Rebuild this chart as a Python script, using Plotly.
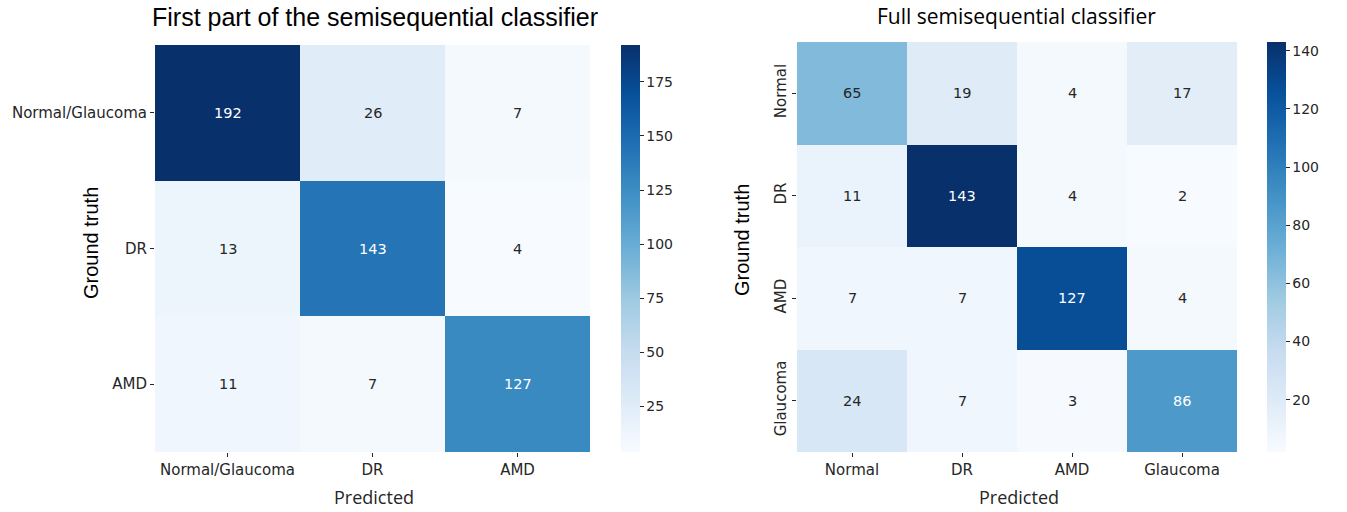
import plotly.graph_objects as go
import plotly.express as px

W, H = 1347, 512

# First part: 3-class confusion matrix
labels_a = ["Normal/Glaucoma", "DR", "AMD"]
cm_a = [
    [192, 26, 7],
    [13, 143, 4],
    [11, 7, 127],
]
ticks_a = [25, 50, 75, 100, 125, 150, 175]

# Full classifier: 4-class confusion matrix
labels_b = ["Normal", "DR", "AMD", "Glaucoma"]
cm_b = [
    [65, 19, 4, 17],
    [11, 143, 4, 2],
    [7, 7, 127, 4],
    [24, 7, 3, 86],
]
ticks_b = [20, 40, 60, 80, 100, 120, 140]

blues = px.colors.sequential.Blues
TXT = "#262626"
TICKFONT = dict(family="DejaVu Sans", size=15, color=TXT)
CBFONT = dict(family="DejaVu Sans", size=14, color=TXT)


def px_x(v):
    return v / W


def px_y(v):
    return 1 - v / H


fig = go.Figure()


def add_matrix(cm, labels, xa, ya, cb_left, top, bottom, ticks):
    zmin = min(min(r) for r in cm)
    zmax = max(max(r) for r in cm)
    fig.add_trace(go.Heatmap(
        z=cm, x=labels, y=labels, xaxis=xa, yaxis=ya,
        colorscale=blues, zmin=zmin, zmax=zmax, showscale=True,
        hoverinfo="skip",
        colorbar=dict(
            x=px_x(cb_left), xanchor="left", y=px_y(top), yanchor="top",
            len=(bottom - top) / H, lenmode="fraction", thickness=19,
            xpad=0, ypad=0, outlinewidth=0,
            tickvals=ticks, ticks="outside", ticklen=4, tickcolor=TXT,
            tickfont=CBFONT,
        ),
    ))
    for i, row in enumerate(cm):
        for j, v in enumerate(row):
            frac = (v - zmin) / (zmax - zmin)
            fig.add_annotation(
                x=labels[j], y=labels[i], xref=xa, yref=ya, text=str(v),
                showarrow=False,
                font=dict(family="DejaVu Sans", size=14.5,
                          color="white" if frac > 0.5 else TXT),
            )


add_matrix(cm_a, labels_a, "x", "y", 621, 45, 452, ticks_a)
add_matrix(cm_b, labels_b, "x2", "y2", 1267, 42, 452, ticks_b)

axis_common = dict(showgrid=False, zeroline=False, showline=False,
                   ticks="outside", ticklen=4, tickcolor=TXT,
                   tickfont=TICKFONT)

fig.update_layout(
    width=W, height=H,
    margin=dict(l=0, r=0, t=0, b=0),
    paper_bgcolor="white", plot_bgcolor="white",
    xaxis=dict(domain=[px_x(155), px_x(590)], anchor="y", **axis_common),
    yaxis=dict(domain=[px_y(452), px_y(45)], anchor="x",
               autorange="reversed", **axis_common),
    xaxis2=dict(domain=[px_x(797), px_x(1237)], anchor="y2", **axis_common),
    yaxis2=dict(domain=[px_y(452), px_y(42)], anchor="x2",
                autorange="reversed", tickangle=-90, **axis_common),
)

texts = [
    ("First part of the semisequential classifier", 375, 17, 0,
     dict(family="Liberation Sans", size=25, color="black")),
    ("Full semisequential classifier", 1016, 16, 0,
     dict(family="Open Sans", size=21, color="black")),
    ("Ground truth", 91, 243, -90,
     dict(family="Liberation Sans", size=20, color="black")),
    ("Ground truth", 742, 240, -90,
     dict(family="Liberation Sans", size=20, color="black")),
    ("Predicted", 374, 497, 0,
     dict(family="Open Sans", size=18, color=TXT)),
    ("Predicted", 1019, 497, 0,
     dict(family="Open Sans", size=18, color=TXT)),
]
for t, x, y, ang, f in texts:
    fig.add_annotation(text=t, x=px_x(x), y=px_y(y), xref="paper",
                       yref="paper", showarrow=False, textangle=ang,
                       xanchor="center", yanchor="middle", font=f)

fig.write_html("out.html")
